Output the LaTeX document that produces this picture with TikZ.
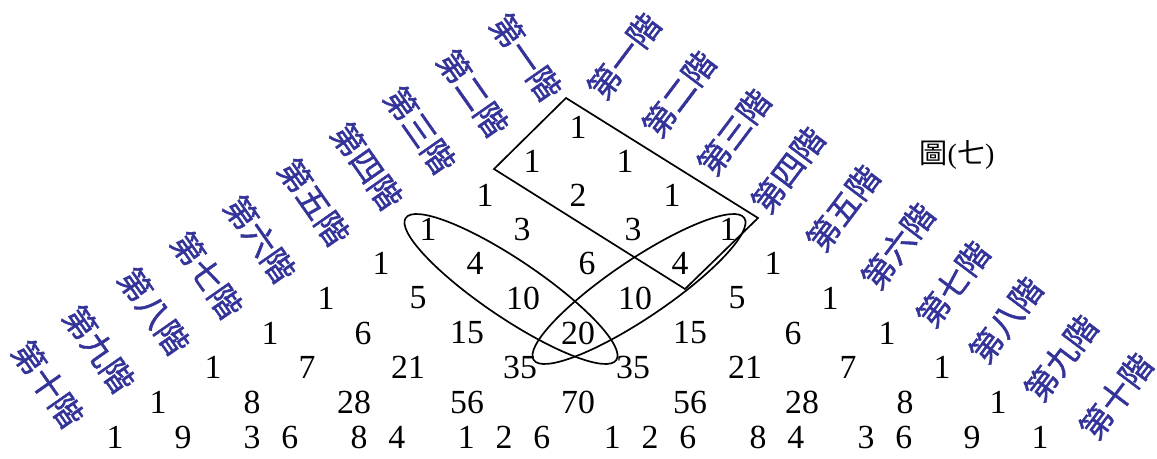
\documentclass[tikz,border=0pt]{standalone}
\usepackage{fontspec}
\setmainfont{Liberation Serif}
\newfontfamily\cjkfont{Noto Sans CJK TC}
\newfontfamily\cjklvlfont[FakeBold=1.3]{Noto Sans CJK TC}
\usepackage{xcolor}
\usepackage{tikz}
\definecolor{stepblue}{RGB}{51,51,153}
\tikzset{
  num/.style={font=\fontsize{24}{26}\selectfont, inner sep=0pt},
  lvl/.style={font=\cjklvlfont\fontsize{23}{25}\selectfont, text=stepblue, inner sep=0pt},
  ring/.style={draw=black, line width=1.2pt},
}
\newcommand{\gap}{\hspace{.62em}}

\begin{document}
\begin{tikzpicture}[x=0.025cm, y=-0.025cm]
    \useasboundingbox (0,0) rectangle (1157,459);
    % rows of the triangle
    \node[num] (n00) at (578,127) {1};
    \node[num] (n10) at (532,161) {1}; \node[num] (n11) at (625,161) {1};
    \node[num] (n20) at (485,195) {1}; \node[num] (n21) at (578,195) {2}; \node[num] (n22) at (672,195) {1};
    \node[num] (n30) at (428,229) {1}; \node[num] (n31) at (522,229) {3}; \node[num] (n32) at (633,229) {3};
    \node[num] (n33) at (728,229) {1};
    \node[num] (n40) at (381,263) {1}; \node[num] (n41) at (475,263) {4}; \node[num] (n42) at (587,263) {6};
    \node[num] (n43) at (680,263) {4}; \node[num] (n44) at (773,263) {1};
    \node[num] (n50) at (326,298) {1}; \node[num] (n51) at (418,298) {5}; \node[num] (n52) at (523,298) {10};
    \node[num] (n53) at (635,298) {10}; \node[num] (n54) at (737,298) {5}; \node[num] (n55) at (830,298) {1};
    \node[num] (n60) at (270,333) {1}; \node[num] (n61) at (363,333) {6}; \node[num] (n62) at (467,333) {15};
    \node[num] (n63) at (578,333) {20}; \node[num] (n64) at (690,333) {15}; \node[num] (n65) at (793,333) {6};
    \node[num] (n66) at (887,333) {1};
    \node[num] (n70) at (213,367) {1}; \node[num] (n71) at (307,367) {7}; \node[num] (n72) at (408,367) {21};
    \node[num] (n73) at (520,367) {35}; \node[num] (n74) at (633,367) {35}; \node[num] (n75) at (745,367) {21};
    \node[num] (n76) at (848,367) {7}; \node[num] (n77) at (942,367) {1};
    \node[num] (n80) at (158,402) {1}; \node[num] (n81) at (252,402) {8}; \node[num] (n82) at (354,402) {28};
    \node[num] (n83) at (467,402) {56}; \node[num] (n84) at (578,402) {70}; \node[num] (n85) at (690,402) {56};
    \node[num] (n86) at (802,402) {28}; \node[num] (n87) at (905,402) {8}; \node[num] (n88) at (998,402) {1};
    \node[num] (n90) at (115,437) {1}; \node[num] (n91) at (183,437) {9}; \node[num] (n92) at (271,437) {3\gap6};
    \node[num] (n93) at (378,437) {8\gap4}; \node[num] (n94) at (504,437) {1\gap2\gap6};
    \node[num] (n95) at (650,437) {1\gap2\gap6}; \node[num] (n96) at (777,437) {8\gap4};
    \node[num] (n97) at (885,437) {3\gap6}; \node[num] (n98) at (972,437) {9}; \node[num] (n99) at (1040,437) {1};
    % level labels, left side
    \node[lvl, rotate=-55] (l1) at (526,57) {第一階};
    \node[lvl, rotate=-55] (l2) at (473,93) {第二階};
    \node[lvl, rotate=-55] (l3) at (420,130) {第三階};
    \node[lvl, rotate=-55] (l4) at (367,166) {第四階};
    \node[lvl, rotate=-55] (l5) at (314,202) {第五階};
    \node[lvl, rotate=-55] (l6) at (260,239) {第六階};
    \node[lvl, rotate=-55] (l7) at (207,275) {第七階};
    \node[lvl, rotate=-55] (l8) at (154,311) {第八階};
    \node[lvl, rotate=-55] (l9) at (99,349) {第九階};
    \node[lvl, rotate=-55] (l10) at (48,384) {第十階};
    % level labels, right side
    \node[lvl, rotate=53] (r1) at (624,56) {第一階};
    \node[lvl, rotate=53] (r2) at (679,94) {第二階};
    \node[lvl, rotate=53] (r3) at (734,132) {第三階};
    \node[lvl, rotate=53] (r4) at (788,170) {第四階};
    \node[lvl, rotate=53] (r5) at (843,208) {第五階};
    \node[lvl, rotate=53] (r6) at (898,246) {第六階};
    \node[lvl, rotate=53] (r7) at (953,284) {第七階};
    \node[lvl, rotate=53] (r8) at (1006,320) {第八階};
    \node[lvl, rotate=53] (r9) at (1061,358) {第九階};
    \node[lvl, rotate=53] (r10) at (1116,396) {第十階};
    \node[font=\fontsize{20}{22}\selectfont, inner sep=0pt] (fig) at (957,155) {{\cjkfont 圖}({\cjkfont 七})};
    % box and the two rings
    \coordinate (bt) at (566,98);
    \coordinate (br) at (758,218);
    \coordinate (bb) at (685,289);
    \coordinate (bl) at (494,169);
    \draw[ring] (bt) -- (br) -- (bb) -- (bl) -- cycle;
    \draw[ring, rotate around={-34:(511,289)}] (511,289) ellipse [x radius=127, y radius=29];
    \draw[ring, rotate around={34:(639,289)}] (639,289) ellipse [x radius=127, y radius=29];
  \end{tikzpicture}
\end{document}
